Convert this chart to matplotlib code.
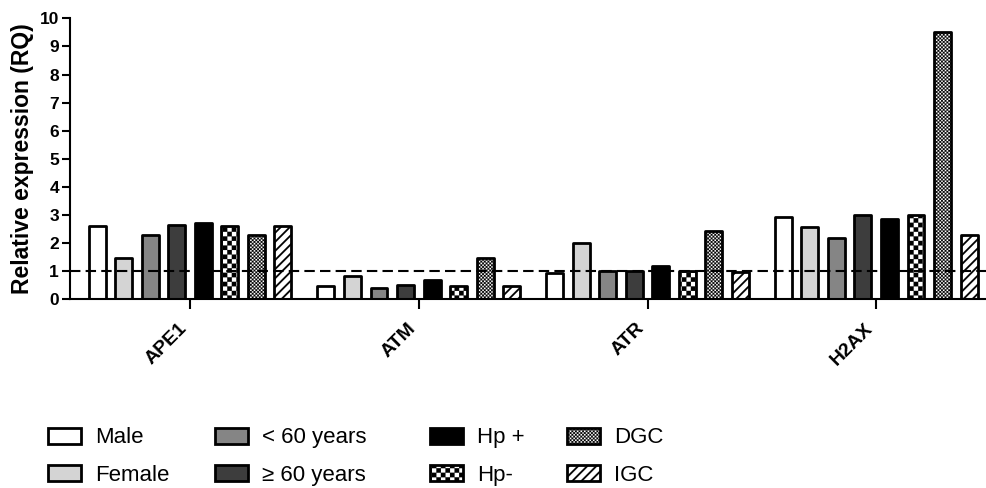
import matplotlib
matplotlib.use('Agg')
import matplotlib.pyplot as plt
import numpy as np
from matplotlib import hatch as mhatch
from matplotlib.path import Path

genes = ['APE1', 'ATM', 'ATR', 'H2AX']
groups = ['Male', 'Female', '< 60 years', '\u2265 60 years', 'Hp +', 'Hp-', 'DGC', 'IGC']

male = [2.59, 0.45, 0.93, 2.92]
female = [1.46, 0.83, 1.99, 2.55]
under_60 = [2.29, 0.39, 0.98, 2.19]
over_60 = [2.65, 0.51, 0.98, 3.00]
hp_pos = [2.70, 0.69, 1.16, 2.85]
hp_neg = [2.59, 0.45, 0.98, 3.00]
dgc = [2.29, 1.46, 2.41, 9.50]
igc = [2.59, 0.47, 0.95, 2.29]

series = [male, female, under_60, over_60, hp_pos, hp_neg, dgc, igc]
colors = ['white', '#d4d4d4', '#858585', '#3d3d3d', 'black', 'white', 'white', 'white']
hatches = [None, None, None, None, None, 'O', '.', '/']


# hatches drawn as filled shapes: checkerboards (coarse 'O', fine '.') and stripes '/'
class Checker(mhatch.HatchPatternBase):
    def __init__(self, hatch, density):
        self.n = 22 if 'O' in hatch else (56 if '.' in hatch else 0)
        self.sq = [(i, j) for i in range(self.n) for j in range(self.n) if (i + j) % 2 == 0]
        self.num_vertices = len(self.sq) * 5

    def set_vertices_and_codes(self, vertices, codes):
        s = 1.0 / self.n
        for k, (i, j) in enumerate(self.sq):
            vertices[k * 5:k * 5 + 5] = [(i * s, j * s), ((i + 1) * s, j * s),
                                         ((i + 1) * s, (j + 1) * s), (i * s, (j + 1) * s),
                                         (i * s, j * s)]
            codes[k * 5:k * 5 + 5] = [Path.MOVETO, Path.LINETO, Path.LINETO,
                                      Path.LINETO, Path.CLOSEPOLY]


class Stripes(mhatch.HatchPatternBase):
    def __init__(self, hatch, density):
        self.n = 11 if '/' in hatch else 0
        self.num_vertices = (2 * self.n + 1) * 5 if self.n else 0

    def set_vertices_and_codes(self, vertices, codes):
        w = 0.024
        for k, c in enumerate(np.linspace(-1, 1, 2 * self.n + 1)):
            vertices[k * 5:k * 5 + 5] = [(-0.5, -0.5 + c), (1.5, 1.5 + c),
                                         (1.5, 1.5 + c + w), (-0.5, -0.5 + c + w),
                                         (-0.5, -0.5 + c)]
            codes[k * 5:k * 5 + 5] = [Path.MOVETO, Path.LINETO, Path.LINETO,
                                      Path.LINETO, Path.CLOSEPOLY]


mhatch._hatch_types[:] = [Checker, Stripes]

plt.rcParams['font.family'] = ['Liberation Sans', 'DejaVu Sans']
plt.rcParams['hatch.linewidth'] = 0.1
plt.rcParams['hatch.color'] = 'black'

fig = plt.figure(figsize=(9.86, 4.88), dpi=100)
ax = fig.add_axes([0.071, 0.3873, 0.929, 0.575])

x = np.arange(len(genes))
pitch = 0.116
width = 0.074
for k in range(len(groups)):
    ax.bar(x + (k - 3.5) * pitch, series[k], width, color=colors[k], hatch=hatches[k],
           edgecolor='black', linewidth=2, joinstyle='round', label=groups[k])

ax.axhline(1, color='black', lw=1.5, ls=(0, (5, 2.5)), zorder=5)

ax.set_xlim(-0.525, 3.48)
ax.set_ylim(0, 10)
ax.set_yticks(range(0, 11))
ax.set_xticks(x)
ax.set_xticklabels(genes, rotation=45, ha='right')
ax.spines['top'].set_visible(False)
ax.spines['right'].set_visible(False)
ax.spines['left'].set_linewidth(1.5)
ax.spines['bottom'].set_linewidth(1.5)
ax.tick_params(axis='y', width=1.5, length=6, labelsize=12.5, pad=2)
ax.tick_params(axis='x', width=1.5, length=7, labelsize=14, pad=8)
for lab in ax.get_xticklabels() + ax.get_yticklabels():
    lab.set_fontweight('bold')
ax.set_ylabel('Relative expression (RQ)', fontsize=16.5, fontweight='bold', labelpad=4)

handles, labels = ax.get_legend_handles_labels()
col_x = [48, 215, 430, 567]
for c in range(4):
    fig.legend(handles[2 * c:2 * c + 2], labels[2 * c:2 * c + 2], loc='upper left',
               bbox_to_anchor=(col_x[c] / 986, 0.124), frameon=False, fontsize=16,
               handlelength=1.5, handleheight=0.72, handletextpad=0.6,
               labelspacing=0.74, borderpad=0, borderaxespad=0)

fig.savefig('out.png', dpi=100)
